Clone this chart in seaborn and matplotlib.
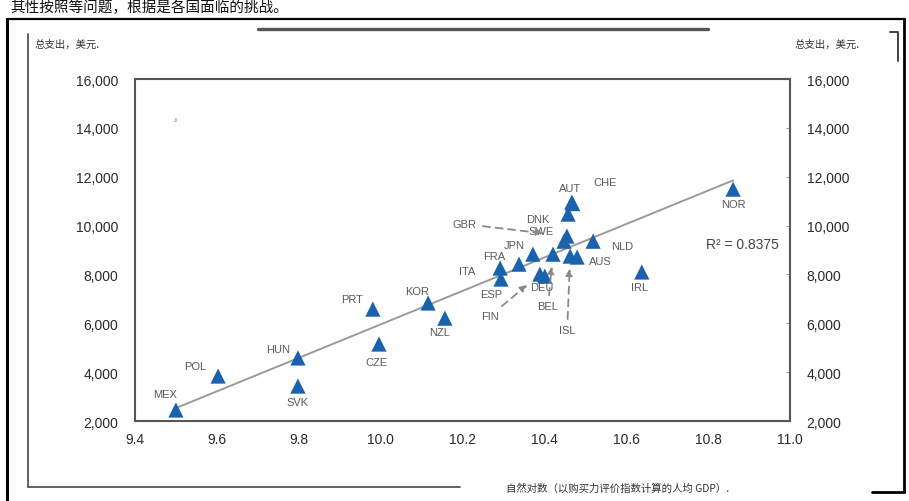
import numpy as np
import pandas as pd
import matplotlib
matplotlib.use("Agg")
import matplotlib.pyplot as plt
import seaborn as sns
from matplotlib.lines import Line2D
from matplotlib.ticker import FuncFormatter

# dati (ln PIL pro capite PPA, spesa totale in dollari)
countries = ["MEX", "POL", "HUN", "SVK", "PRT", "CZE", "KOR", "NZL", "ITA", "ESP",
             "FRA", "JPN", "FIN", "DEU", "BEL", "SWE", "GBR", "ISL", "AUS", "NLD",
             "DNK", "AUT", "CHE", "IRL", "NOR"]
ln_gdp = [9.50, 9.603, 9.798, 9.798, 9.981, 9.996, 10.116, 10.157, 10.292, 10.294,
          10.338, 10.372, 10.389, 10.401, 10.421, 10.448, 10.455, 10.463, 10.480, 10.519,
          10.458, 10.467, 10.469, 10.638, 10.861]
spending = [2450, 3840, 4580, 3430, 6580, 5150, 6830, 6210, 8260, 7810,
            8420, 8830, 8010, 7930, 8830, 9360, 9570, 8750, 8710, 9360,
            10470, 10960, 10900, 8100, 11490]
r2_text = "R² = 0.8375"

x_ticks = [9.4, 9.6, 9.8, 10.0, 10.2, 10.4, 10.6, 10.8, 11.0]
y_ticks = [2000, 4000, 6000, 8000, 10000, 12000, 14000, 16000]

df = pd.DataFrame({"country": countries, "ln_gdp": ln_gdp, "spending": spending})

# spostamento etichette (pixel: dx, dy) e quali hanno la freccia tratteggiata
label_offset = {
    "MEX": (-11, 16), "POL": (-23, 10), "HUN": (-20, 9), "SVK": (0, -16),
    "PRT": (-21, 10), "CZE": (-2, -18), "KOR": (-11, 12), "NZL": (-5, -14),
    "ITA": (-33, -3), "ESP": (-10, -15), "FRA": (-25, 8), "JPN": (-19, 9),
    "FIN": (-50, -42), "DEU": (-3, -11), "BEL": (-5, -52), "SWE": (-23, 10),
    "GBR": (-102, 12), "ISL": (-3, -74), "AUS": (23, -4), "NLD": (29, -5),
    "DNK": (-30, -5), "AUT": (-2, 14), "CHE": (33, 22), "IRL": (-2, -15),
    "NOR": (0, -15),
}
with_arrow = {"GBR": 17, "FIN": 12, "BEL": 9, "ISL": 9}

sns.set_theme(style="white")
plt.rcParams["font.family"] = ["Liberation Sans", "DejaVu Sans"]

fig = plt.figure(figsize=(9.09, 5.02), dpi=100)
ax = fig.add_axes([135 / 909, 1 - 422 / 502, 655 / 909, 342 / 502])

sns.regplot(data=df, x="ln_gdp", y="spending", scatter=False, ci=None, ax=ax,
            color="#9a9a9a", line_kws={"linewidth": 1.4})
sns.scatterplot(data=df, x="ln_gdp", y="spending", marker="^", s=120,
                color="#1a62ad", edgecolor="none", ax=ax, zorder=3)

px = 0.72  # pixel -> punti
for _, row in df.iterrows():
    c = row["country"]
    dx, dy = label_offset[c]
    if c in with_arrow:
        ax.annotate(c, xy=(row["ln_gdp"], row["spending"]),
                    xytext=(dx * px, dy * px), textcoords="offset points",
                    ha="center", va="center", fontsize=8, color="#5a5a5a",
                    arrowprops=dict(arrowstyle="-|>", linestyle=(0, (4, 3)),
                                    color="#8a8a8a", lw=1.3, mutation_scale=10,
                                    shrinkA=2, shrinkB=with_arrow[c]))
    else:
        ax.annotate(c, xy=(row["ln_gdp"], row["spending"]),
                    xytext=(dx * px, dy * px), textcoords="offset points",
                    ha="center", va="center", fontsize=8, color="#5a5a5a")

ax.text(10.883, 9250, r2_text, ha="center", va="center", fontsize=10, color="#444444")

ax.set_xlim(9.4, 11.0)
ax.set_ylim(2000, 16000)
ax.set_xticks(x_ticks)
ax.set_yticks(y_ticks)
ax.xaxis.set_major_formatter(FuncFormatter(lambda v, p: f"{v:.1f}"))
ax.yaxis.set_major_formatter(FuncFormatter(lambda v, p: f"{int(v):,}"))
ax.tick_params(axis="both", direction="in", length=3, width=0.8, color="#999999",
               labelsize=10, labelcolor="#2a2a2a")
ax.tick_params(axis="y", right=True, labelright=True, pad=12)
ax.tick_params(axis="x", pad=8)
ax.set_xlabel("")
ax.set_ylabel("")
for s in ax.spines.values():
    s.set_color("#555555")
    s.set_linewidth(1.5)

# testi esterni e cornice della pagina scansionata
cjk = ["Noto Sans CJK SC", "DejaVu Sans"]
fig.text(10 / 909, 1 - 8 / 502, "其性按照等问题，根据是各国面临的挑战。", fontsize=10.5,
         family=cjk, va="center", ha="left", color="#111111")
fig.text(35 / 909, 1 - 45 / 502, "总支出，美元.", fontsize=7.5, family=cjk,
         va="center", ha="left", color="#333333")
fig.text(795 / 909, 1 - 45 / 502, "总支出，美元.", fontsize=7.5, family=cjk,
         va="center", ha="left", color="#333333")
fig.text(618 / 909, 1 - 489 / 502, "自然对数（以购买力评价指数计算的人均 GDP）.",
         fontsize=7.5, family=cjk, va="center", ha="center", color="#333333")
fig.text(175 / 909, 1 - 120 / 502, ".ı", fontsize=5, va="center", ha="center",
         color="#555555")


def frame_line(xs, ys, color, lw):
    fig.add_artist(Line2D([x / 909 for x in xs], [1 - y / 502 for y in ys],
                          color=color, linewidth=lw, transform=fig.transFigure))


frame_line([7, 7], [20, 502], "#000000", 2.2)
frame_line([7, 905], [20, 20], "#000000", 1.6)
frame_line([904, 904], [20, 493], "#000000", 2.0)
frame_line([872, 904], [493, 493], "#000000", 2.0)
frame_line([28, 28], [35, 488], "#555555", 1.3)
frame_line([28, 460], [488, 488], "#555555", 1.3)
frame_line([258, 708], [30, 30], "#555555", 2.4)
frame_line([890, 898, 898], [33, 33, 62], "#333333", 1.3)

fig.savefig("out.png", dpi=100)
